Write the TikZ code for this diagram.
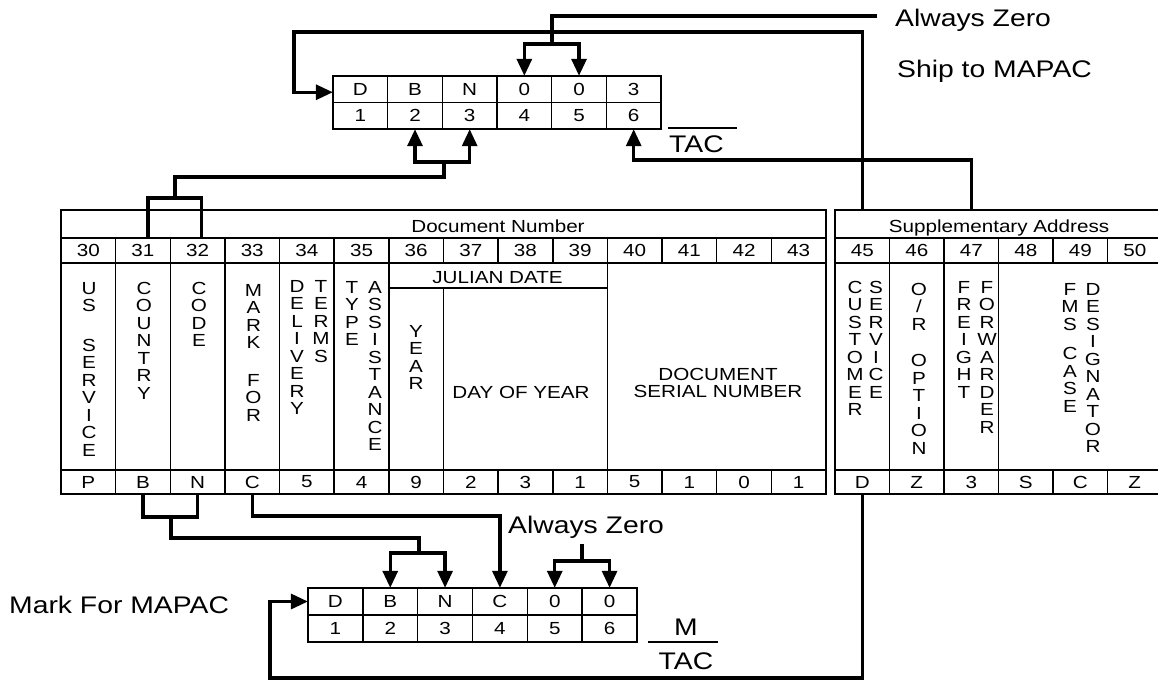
\documentclass[tikz,border=0pt]{standalone}
\usepackage{fontspec}
\setmainfont{Liberation Sans}[FakeStretch=1.18]
\usetikzlibrary{arrows.meta,calc}
\begin{document}
\begin{tikzpicture}[x=1pt,y=-1pt,
  tt/.style={font=\fontsize{17.5}{17.5}\selectfont, inner sep=0pt},
  big/.style={font=\fontsize{24}{28}\selectfont, inner sep=0pt},
  cell/.style={tt, minimum width=54.6pt, minimum height=25pt},
  vt/.style={tt, align=center, anchor=north},
  conn/.style={line width=3.2pt, line join=miter},
  arr/.style={conn, -{Triangle[length=17pt,width=15pt]}},
  outer/.style={line width=2.5pt},
  rowline/.style={line width=1.9pt},
  inner/.style={line width=1.5pt},
]
\useasboundingbox (0,0) rectangle (1158,680);

% ================= Document Number table =================
\draw[outer] (61,210) rectangle (826,494);
\draw[rowline] (61,238) -- (826,238);
\draw[rowline] (61,263) -- (826,263);
\draw[rowline] (61,470) -- (826,470);
\foreach \i in {1,...,13} {
  \draw[inner] ({61+54.64*\i},238) -- ({61+54.64*\i},263);
  \draw[inner] ({61+54.64*\i},470) -- ({61+54.64*\i},494);
}
\foreach \i in {1,2,3,4,5,6,10}
  \draw[inner] ({61+54.64*\i},263) -- ({61+54.64*\i},470);
\draw[inner] ({61+54.64*6},288) -- ({61+54.64*10},288);
\draw[inner] ({61+54.64*7},288) -- ({61+54.64*7},470);

\node[tt, anchor=base] (doctitle) at (498,232) {Document Number};
\foreach \n [count=\i from 0] in {30,...,43}
  \node[cell] (n\n) at ({61+54.64*(\i+0.5)},250.5) {\n};
\foreach \v [count=\i from 0] in {P,B,N,C,5,4,9,2,3,1,5,1,0,1}
  \node[cell, minimum height=24pt] (d\i) at ({61+54.64*(\i+0.5)},482) {\v};
\node[tt, anchor=base] (julian) at (497.5,283) {JULIAN DATE};

\node[vt] (vus) at (89,282) {U\\S\\[22pt]S\\E\\R\\V\\I\\C\\E};
\node[vt] (vcountry) at (144,282) {C\\O\\U\\N\\T\\R\\Y};
\node[vt] (vcode) at (199,282) {C\\O\\D\\E};
\node[vt] (vmark) at (253.5,284) {M\\A\\R\\K\\[20pt]F\\O\\R};
\node[vt] (vdel) at (297,280) {D\\E\\L\\I\\V\\E\\R\\Y};
\node[vt] (vterms) at (321,280) {T\\E\\R\\M\\S};
\node[vt] (vtype) at (352,281) {T\\Y\\P\\E};
\node[vt] (vassist) at (375,281) {A\\S\\S\\I\\S\\T\\A\\N\\C\\E};
\node[vt] (vyear) at (416,325) {Y\\E\\A\\R};
\node[tt, anchor=base] (vday) at (521,398) {DAY OF YEAR};
\node[vt] (vserial) at (718,368) {DOCUMENT\\SERIAL NUMBER};

% ================= Supplementary Address table =================
\coordinate (supTop) at (835,210);
\draw[outer] (835,210) rectangle (1164,494);
\draw[rowline] (835,238) -- (1164,238);
\draw[rowline] (835,263) -- (1164,263);
\draw[rowline] (835,470) -- (1164,470);
\foreach \i in {1,...,5} {
  \draw[inner] ({835+54.5*\i},238) -- ({835+54.5*\i},263);
  \draw[inner] ({835+54.5*\i},470) -- ({835+54.5*\i},494);
}
\foreach \i in {1,2,3}
  \draw[inner] ({835+54.5*\i},263) -- ({835+54.5*\i},470);

\node[tt, anchor=base] (suptitle) at (999,232) {Supplementary Address};
\foreach \n [count=\i from 0] in {45,...,50}
  \node[cell] (n\n) at ({835+54.5*(\i+0.5)},250.5) {\n};
\foreach \v [count=\i from 0] in {D,Z,3,S,C,Z}
  \node[cell, minimum height=24pt] (s\i) at ({835+54.5*(\i+0.5)},482) {\v};

\node[vt] (vcust) at (855,281) {C\\U\\S\\T\\O\\M\\E\\R};
\node[vt] (vserv) at (876,281) {S\\E\\R\\V\\I\\C\\E};
\node[vt] (vopt) at (919,283) {O\\/\\R\\[19pt]O\\P\\T\\I\\O\\N};
\node[vt] (vfreight) at (964,281) {F\\R\\E\\I\\G\\H\\T};
\node[vt] (vfwd) at (987,281) {F\\O\\R\\W\\A\\R\\D\\E\\R};
\node[vt] (vfms) at (1070,283) {F\\M\\S\\[12pt]C\\A\\S\\E};
\node[vt] (vdes) at (1093,283) {D\\E\\S\\I\\G\\N\\A\\T\\O\\R};

% ================= Top TAC table (Ship to) =================
\draw[outer] (333,76) rectangle (661,129);
\draw[inner] (333,102.5) -- (661,102.5);
\foreach \i in {1,...,5}
  \draw[inner] ({333+54.67*\i},76) -- ({333+54.67*\i},129);
\foreach \v [count=\i] in {D,B,N,0,0,3}
  \node[cell, minimum height=26.5pt] (t\i) at ({333+54.67*(\i-0.5)},89.25) {\v};
\foreach \i in {1,...,6}
  \node[cell, minimum height=26.5pt] (u\i) at ({333+54.67*(\i-0.5)},115.75) {\i};

\node[big, anchor=base west] (az1) at (895,26) {Always Zero};
\node[big, anchor=base west] (ship) at (897,77) {Ship to MAPAC};
\node[big, anchor=base west] (tac1) at (669,152) {TAC};
\draw[inner] (668,128) -- (737,128);

% ================= Bottom TAC table (Mark for) =================
\draw[outer] (308,588) rectangle (637,642);
\draw[inner] (308,615) -- (637,615);
\foreach \i in {1,...,5}
  \draw[inner] ({308+54.83*\i},588) -- ({308+54.83*\i},642);
\foreach \v [count=\i] in {D,B,N,C,0,0}
  \node[cell, minimum height=27pt] (b\i) at ({308+54.83*(\i-0.5)},601.5) {\v};
\foreach \i in {1,...,6}
  \node[cell, minimum height=27pt] (c\i) at ({308+54.83*(\i-0.5)},628.5) {\i};

\node[big, anchor=base west] (markfor) at (9,613) {Mark For MAPAC};
\node[big, anchor=base west] (az2) at (508,533) {Always Zero};
\node[big, anchor=base] (mlab) at (686,635) {M};
\node[big, anchor=base] (tac2) at (686,669) {TAC};
\draw[inner] (648,642) -- (718,642);

% ================= Connectors =================
% D (customer service) -> position 1 of ship-to TAC
\coordinate (topL) at (294,32);
\draw[arr] (s0 |- supTop) |- (topL) |- ([yshift=-3pt]t1.west);

% Always zero -> positions 4,5
\coordinate (az1end) at (877,16);
\coordinate (az1j) at (552,44);
\draw[conn] (az1end) -| (az1j);
\draw[arr] (az1j) -| (t4.north);
\draw[arr] (az1j) -| (t5.north);

% Freight forwarder -> position 6
\coordinate (r6) at (0,160);
\draw[arr] (s2 |- supTop) |- (t6 |- r6) -- (u6.south);

% Country code -> positions 2,3 (top)
\coordinate (brT) at (0,198);
\coordinate (c31) at ($(n31.north)+(5,0)$);
\coordinate (c32) at ($(n32.north)+(4,0)$);
\coordinate (jT1) at (175,177);
\coordinate (jT2) at (444,162);
\draw[conn] (c31) -- (c31 |- brT) -- (c32 |- brT) -- (c32);
\draw[conn] (jT1 |- brT) -- (jT1) -| (jT2);
\draw[arr] (jT2) -| (u2.south);
\draw[arr] (jT2) -| (u3.south);

% Country code -> positions 2,3 (bottom)
\coordinate (brB) at (0,517);
\coordinate (jB1) at (171,538);
\coordinate (jB2) at (419,553);
\draw[conn] (d1.south) -- (d1 |- brB) -- (d2 |- brB) -- (d2.south);
\draw[conn] (jB1 |- brB) -- (jB1) -| (jB2);
\draw[arr] (jB2) -| (b2.north);
\draw[arr] (jB2) -| (b3.north);

% Mark for -> position 4
\coordinate (cC) at (0,516);
\draw[arr] (d3.south) -- (d3 |- cC) -| (b4.north);

% Always zero -> positions 5,6 (bottom)
\coordinate (az2s) at (582,544);
\coordinate (az2j) at (582,561);
\draw[conn] (az2s) -- (az2j);
\draw[arr] (az2j) -| (b5.north);
\draw[arr] (az2j) -| (b6.north);

% D -> position 1 of mark-for TAC
\coordinate (botL) at (270,678);
\draw[arr] (s0.south) |- (botL) |- (b1.west);
\end{tikzpicture}
\end{document}
